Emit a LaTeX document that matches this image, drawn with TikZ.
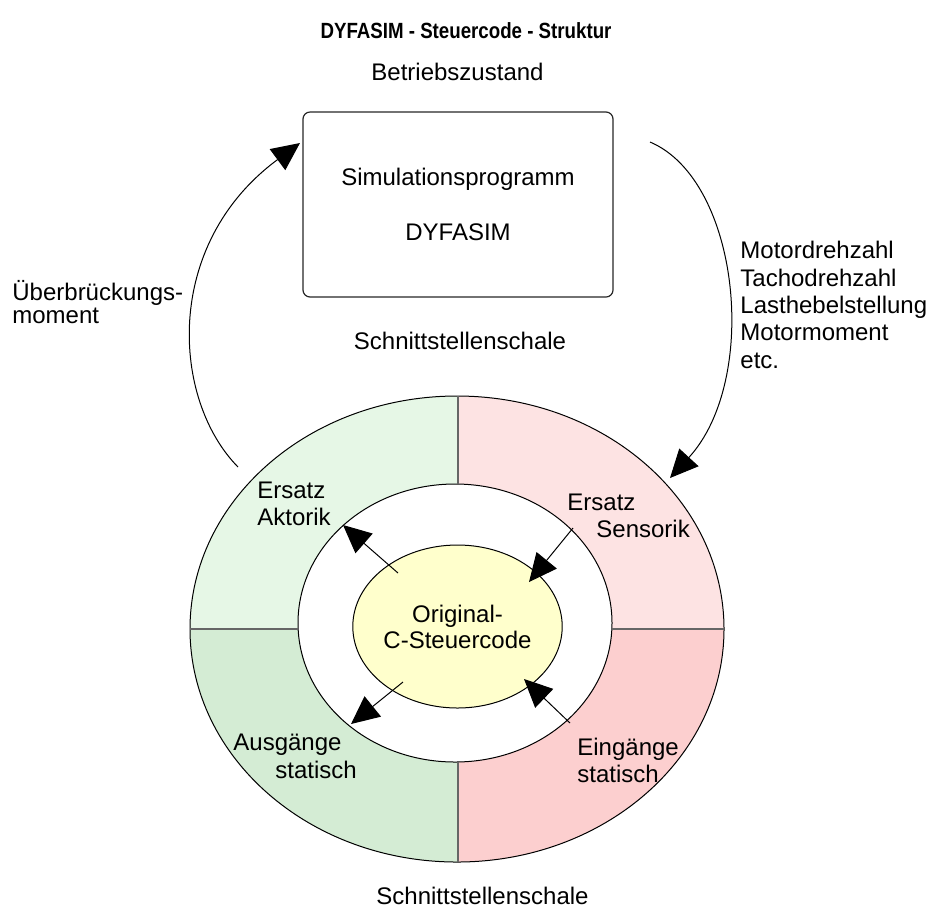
\documentclass[tikz,border=0pt]{standalone}
\usepackage{fontspec}
\setmainfont{Liberation Sans}
\newfontfamily\titlefont[FakeStretch=0.85]{Liberation Sans}
\usetikzlibrary{arrows.meta,shapes.geometric}
\definecolor{ringTL}{HTML}{E6F7E6}
\definecolor{ringBL}{HTML}{D4ECD4}
\definecolor{ringTR}{HTML}{FDE3E3}
\definecolor{ringBR}{HTML}{FCCFCF}
\definecolor{coreFill}{HTML}{FFFFCC}
\begin{document}
\begin{tikzpicture}[x=0.5pt,y=-0.5pt,
  lbl/.style={inner sep=0pt, font=\fontsize{12}{14}\selectfont},
  conn/.style={line width=0.5pt, -{Triangle[length=14pt,width=13pt]}},
  divider/.style={draw=black!60, line width=0.9pt},
  outline/.style={draw=black, line width=0.5pt}]
\useasboundingbox (0,0) rectangle (930,907);

% ring quadrants
\begin{scope}
  \clip (0,0) rectangle (458,629);
  \fill[ringTL, even odd rule] (457,629) ellipse [x radius=267, y radius=233] (455,623) ellipse [x radius=157, y radius=139];
\end{scope}
\begin{scope}
  \clip (0,629) rectangle (458,907);
  \fill[ringBL, even odd rule] (457,629) ellipse [x radius=267, y radius=233] (455,623) ellipse [x radius=157, y radius=139];
\end{scope}
\begin{scope}
  \clip (458,0) rectangle (930,629);
  \fill[ringTR, even odd rule] (457,629) ellipse [x radius=267, y radius=233] (455,623) ellipse [x radius=157, y radius=139];
\end{scope}
\begin{scope}
  \clip (458,629) rectangle (930,907);
  \fill[ringBR, even odd rule] (457,629) ellipse [x radius=267, y radius=233] (455,623) ellipse [x radius=157, y radius=139];
\end{scope}
\draw[outline] (457,629) ellipse [x radius=267, y radius=233];
\draw[outline] (455,623) ellipse [x radius=157, y radius=139];
\draw[divider] (458,396) -- (458,484);
\draw[divider] (458,762) -- (458,862);
\draw[divider] (190,629) -- (298,629);
\draw[divider] (612,629) -- (724,629);

% core
\node[ellipse, outline, fill=coreFill, minimum width=98.5pt, minimum height=81.5pt, inner sep=0pt,
      align=center, font=\fontsize{12}{13}\selectfont] (core) at (457.5,626.5) {Original-\\C-Steuercode};

% simulation box
\node[draw=black!85, line width=0.6pt, rounded corners=3.5pt, minimum width=155pt, minimum height=92.5pt,
      align=center, font=\fontsize{12}{27.5}\selectfont] (sim) at (458,204.5) {Simulationsprogramm\\DYFASIM};

% connector end points
\coordinate (ringTLtop) at (238,467);
\coordinate (simIn) at (300,143);
\coordinate (simOut) at (650,142);
\coordinate (ringTRtop) at (670,478);
\coordinate (a1s) at (398,573);  \coordinate (a1e) at (343,525);
\coordinate (a2s) at (573,528);  \coordinate (a2e) at (529,582);
\coordinate (a3s) at (403,682);  \coordinate (a3e) at (351,724);
\coordinate (a4s) at (570,723);  \coordinate (a4e) at (524,679);

\draw[conn] (ringTLtop) .. controls (172,400) and (162,245) .. (simIn);
\draw[conn] (simOut) .. controls (740,180) and (760,380) .. (ringTRtop);
\draw[conn] (a1s) -- (a1e);
\draw[conn] (a2s) -- (a2e);
\draw[conn] (a3s) -- (a3e);
\draw[conn] (a4s) -- (a4e);

% texts
\node[inner sep=0pt, anchor=base, font=\titlefont\bfseries\fontsize{11}{13}\selectfont] (title) at (466,38) {DYFASIM - Steuercode - Struktur};
\node[lbl, anchor=base] (betr) at (457.5,80) {Betriebszustand};
\node[lbl, anchor=base] (schale1) at (460,349) {Schnittstellenschale};
\node[lbl, anchor=base] (schale2) at (482.5,904) {Schnittstellenschale};
\node[lbl, anchor=base west] (ueb1) at (12,300) {Überbrückungs-};
\node[lbl, anchor=base west] (ueb2) at (12,323) {moment};
\node[lbl, anchor=base west] (m1) at (740,258) {Motordrehzahl};
\node[lbl, anchor=base west] (m2) at (740,286.5) {Tachodrehzahl};
\node[lbl, anchor=base west] (m3) at (740,313.5) {Lasthebelstellung};
\node[lbl, anchor=base west] (m4) at (740,340.5) {Motormoment};
\node[lbl, anchor=base west] (m5) at (740,368) {etc.};
\node[lbl, anchor=base west] (ea1) at (257,498) {Ersatz};
\node[lbl, anchor=base west] (ea2) at (257,525) {Aktorik};
\node[lbl, anchor=base west] (es1) at (567,510) {Ersatz};
\node[lbl, anchor=base west] (es2) at (596,537) {Sensorik};
\node[lbl, anchor=base west] (as1) at (233,750) {Ausgänge};
\node[lbl, anchor=base west] (as2) at (275,778) {statisch};
\node[lbl, anchor=base west] (es3) at (577,755) {Eingänge};
\node[lbl, anchor=base west] (es4) at (577,782) {statisch};
\end{tikzpicture}
\end{document}
